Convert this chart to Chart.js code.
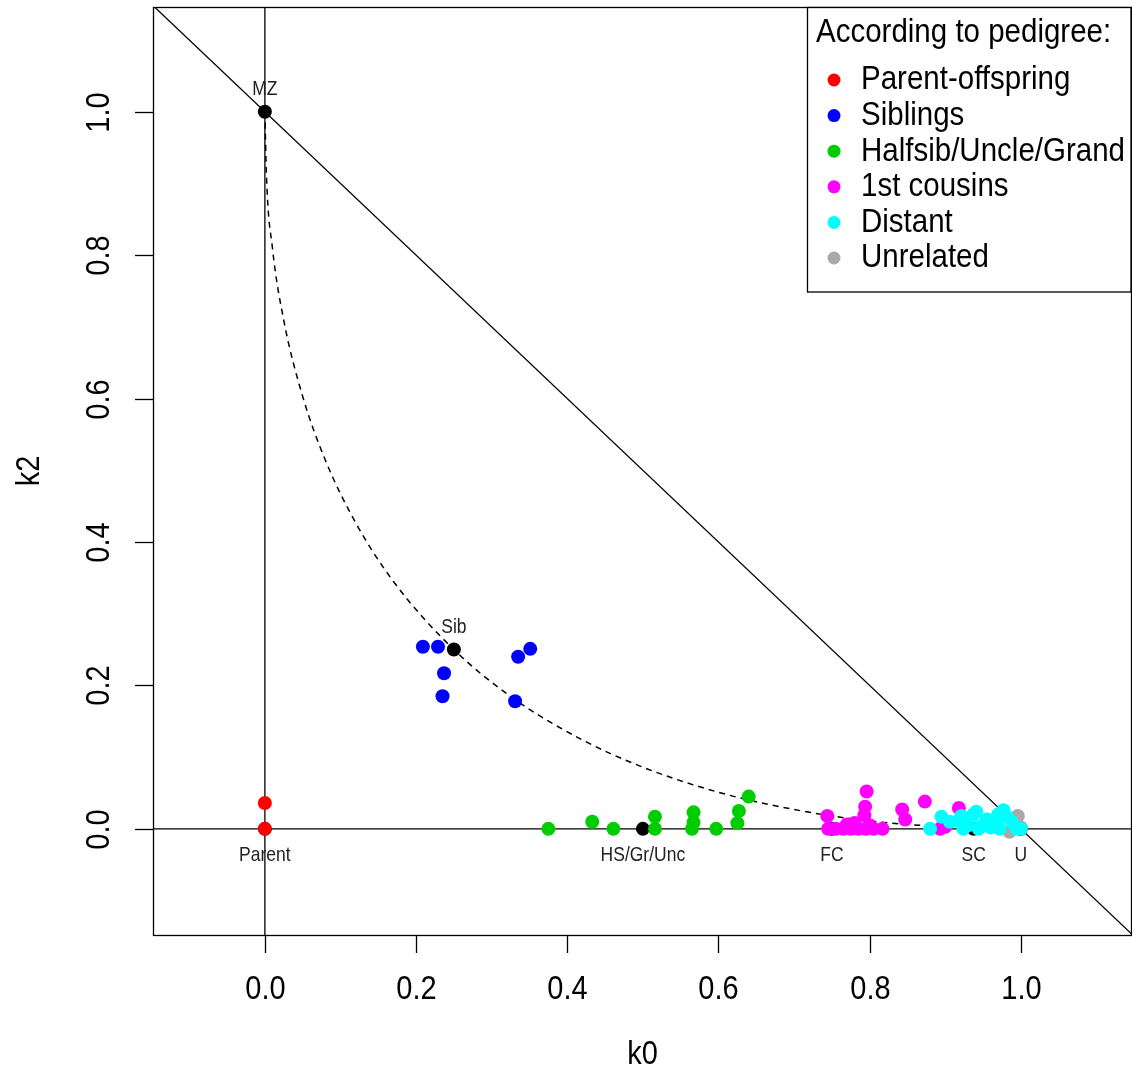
<!DOCTYPE html>
<html>
<head>
<meta charset="utf-8">
<script src="https://cdn.jsdelivr.net/npm/chart.js@4.4.1/dist/chart.umd.min.js"></script>
<style>
  html, body { margin: 0; padding: 0; background: #fff; }
  canvas { display: block; }
</style>
</head>
<body>
<canvas id="plot" width="1132" height="1074"></canvas>
<script>
// --- observed pairs (k0, k2) per pedigree class ---
const parentK0 = [0, 0];
const parentK2 = [0, 0.036];

const siblingsK0 = [0.209, 0.229, 0.237, 0.235, 0.335, 0.351, 0.331];
const siblingsK2 = [0.254, 0.254, 0.217, 0.185, 0.240, 0.251, 0.178];

const halfsibK0 = [0.375, 0.433, 0.461, 0.516, 0.516, 0.565, 0.567, 0.567, 0.597, 0.625, 0.627, 0.640];
const halfsibK2 = [0, 0.010, 0, 0, 0.017, 0, 0.009, 0.023, 0, 0.008, 0.025, 0.045];

const cousinsK0 = [0.744, 0.796, 0.794, 0.793, 0.745, 0.755, 0.765, 0.775, 0.785, 0.795, 0.805, 0.817,
                   0.770, 0.780, 0.800, 0.843, 0.847, 0.873, 0.918, 0.893, 0.900];
const cousinsK2 = [0.018, 0.052, 0.031, 0.019, 0, 0, 0, 0, 0, 0, 0, 0,
                   0.006, 0.008, 0.005, 0.027, 0.013, 0.038, 0.029, 0, 0.003];

const distantK0 = [0.880, 0.895, 0.906, 0.919, 0.924, 0.921, 0.937, 0.941, 0.944, 0.946, 0.955,
                   0.966, 0.970, 0.972, 0.977, 0.981, 0.988, 0.994, 1.000, 0.930, 0.960];
const distantK2 = [0, 0.017, 0.010, 0.010, 0, 0.018, 0.020, 0.024, 0, 0.003, 0.013,
                   0.008, 0.020, 0, 0.026, 0.017, 0.010, 0, 0, 0.005, 0.002];

const unrelatedK0 = [0.985, 0.990, 0.996, 1.000];
const unrelatedK2 = [-0.004, 0.008, 0.018, 0.002];

const groupLabels = ['Parent-offspring', 'Siblings', 'Halfsib/Uncle/Grand', '1st cousins', 'Distant', 'Unrelated'];
const groupColors = ['#FF0000', '#0000FF', '#00CD00', '#FF00FF', '#00FFFF', '#A9A9A9'];
const legendTitle = 'According to pedigree:';

// --- theoretical reference relationships ---
const refLabels = ['Parent', 'MZ', 'Sib', 'HS/Gr/Unc', 'FC', 'SC', 'U'];
const refK0 = [0, 0, 0.25, 0.5, 0.75, 0.9375, 1];
const refK2 = [0, 1, 0.25, 0, 0, 0, 0];
const refAbove = [false, true, true, false, false, false, false];

// dashed boundary curve
const curveK0 = [0, 0.002, 0.01, 0.025, 0.05, 0.08, 0.12, 0.17, 0.25, 0.33, 0.42, 0.5, 0.6, 0.7, 0.8, 0.9, 1.0];
const curveK2 = [1, 0.913, 0.81, 0.709, 0.603, 0.514, 0.427, 0.345, 0.25, 0.181, 0.124, 0.086, 0.051, 0.027, 0.011, 0.003, 0];

// straight guide lines
const diagK0 = [-0.2, 1.2];
const diagK2 = [1.2, -0.2];
const vertK0 = [0, 0];
const vertK2 = [-0.2, 1.2];
const horizK0 = [-0.2, 1.2];
const horizK2 = [0, 0];

// axes
const xTicks = [0, 0.2, 0.4, 0.6, 0.8, 1.0];
const xTickLabels = ['0.0', '0.2', '0.4', '0.6', '0.8', '1.0'];
const yTicks = [0, 0.2, 0.4, 0.6, 0.8, 1.0];
const yTickLabels = ['0.0', '0.2', '0.4', '0.6', '0.8', '1.0'];
const xTitle = 'k0';
const yTitle = 'k2';

const FONT = '"Liberation Sans", Arial, sans-serif';

function pts(xs, ys) {
    return xs.map((x, i) => ({ x: x, y: ys[i] }));
}

function guide(xs, ys, dash, order) {
    return {
        type: 'line', data: pts(xs, ys), borderColor: '#000', borderWidth: 1.3,
        borderDash: dash, pointRadius: 0, pointHoverRadius: 0, fill: false, tension: 0,
        showLine: true, order: order
    };
}

function dots(xs, ys, color, label, order) {
    return {
        label: label, data: pts(xs, ys), backgroundColor: color, borderWidth: 0,
        pointRadius: 7, pointHoverRadius: 7, showLine: false, order: order
    };
}

// text is a bit taller than wide in the original
function tallText(ctx, text, x, y, rot) {
    ctx.save();
    ctx.translate(x, y);
    if (rot) ctx.rotate(rot);
    ctx.scale(1, 1.15);
    ctx.fillText(text, 0, 0);
    ctx.restore();
}

const whiteBg = {
    id: 'whiteBg',
    beforeDraw(chart) {
        const ctx = chart.ctx;
        ctx.save();
        ctx.fillStyle = '#fff';
        ctx.fillRect(0, 0, chart.width, chart.height);
        ctx.restore();
    }
};

const rStyleAxes = {
    id: 'rStyleAxes',
    afterDraw(chart) {
        const ctx = chart.ctx;
        const a = chart.chartArea;
        const xs = chart.scales.x, ys = chart.scales.y;
        ctx.save();
        ctx.strokeStyle = '#000';
        ctx.fillStyle = '#000';
        ctx.lineWidth = 1.3;

        // box
        ctx.strokeRect(a.left + 0.5, a.top + 0.5, a.right - a.left - 1, a.bottom - a.top);

        // ticks
        ctx.font = '29px ' + FONT;
        ctx.textAlign = 'center';
        ctx.textBaseline = 'middle';
        xTicks.forEach((v, i) => {
            const px = Math.round(xs.getPixelForValue(v)) + 0.5;
            ctx.beginPath();
            ctx.moveTo(px, a.bottom);
            ctx.lineTo(px, a.bottom + 18);
            ctx.stroke();
            tallText(ctx, xTickLabels[i], px, 990);
        });
        yTicks.forEach((v, i) => {
            const py = Math.round(ys.getPixelForValue(v)) + 0.5;
            ctx.beginPath();
            ctx.moveTo(a.left, py);
            ctx.lineTo(a.left - 18, py);
            ctx.stroke();
            tallText(ctx, yTickLabels[i], 100, py, -Math.PI / 2);
        });

        // axis titles
        tallText(ctx, xTitle, (a.left + a.right) / 2, 1055);
        tallText(ctx, yTitle, 30, (a.top + a.bottom) / 2, -Math.PI / 2);

        // reference labels
        ctx.font = '17.5px ' + FONT;
        ctx.fillStyle = '#222';
        refLabels.forEach((t, i) => {
            const px = xs.getPixelForValue(refK0[i]);
            const py = ys.getPixelForValue(refK2[i]);
            tallText(ctx, t, px, refAbove[i] ? py - 22 : py + 27);
        });

        // legend
        const lx = 807.5, ly = 7.5, lw = 1131 - 807.5, lh = 292 - 7.5;
        ctx.fillStyle = '#fff';
        ctx.fillRect(lx, ly, lw, lh);
        ctx.strokeStyle = '#000';
        ctx.strokeRect(lx, ly, lw, lh);
        ctx.fillStyle = '#000';
        ctx.font = '29.5px ' + FONT;
        ctx.textAlign = 'left';
        tallText(ctx, legendTitle, 816, 33);
        groupLabels.forEach((t, i) => {
            const cy = 80 + i * 35.6;
            ctx.fillStyle = groupColors[i];
            ctx.beginPath();
            ctx.arc(834, cy, 6.5, 0, Math.PI * 2);
            ctx.fill();
            ctx.fillStyle = '#000';
            tallText(ctx, t, 861, cy);
        });
        ctx.restore();
    }
};

const datasets = [
    dots(distantK0, distantK2, groupColors[4], groupLabels[4], 1),
    dots(cousinsK0, cousinsK2, groupColors[3], groupLabels[3], 2),
    dots(halfsibK0, halfsibK2, groupColors[2], groupLabels[2], 3),
    dots(siblingsK0, siblingsK2, groupColors[1], groupLabels[1], 4),
    dots(parentK0, parentK2, groupColors[0], groupLabels[0], 5),
    dots(unrelatedK0, unrelatedK2, groupColors[5], groupLabels[5], 6),
    dots(refK0, refK2, '#000', 'Reference', 7),
    guide(curveK0, curveK2, [6, 5], 8),
    guide(diagK0, diagK2, [], 9),
    guide(vertK0, vertK2, [], 10),
    guide(horizK0, horizK2, [], 11)
];
datasets[7].tension = 0.4;
datasets[7].cubicInterpolationMode = 'monotone';
datasets[7].borderWidth = 1.5;

new Chart(document.getElementById('plot').getContext('2d'), {
    type: 'scatter',
    data: { datasets: datasets },
    options: {
        responsive: false,
        devicePixelRatio: 1,
        animation: false,
        layout: { autoPadding: false, padding: { top: 7, right: 0, bottom: 0, left: 0 } },
        plugins: {
            legend: { display: false },
            tooltip: { enabled: false }
        },
        scales: {
            x: {
                type: 'linear', min: -0.148, max: 1.147,
                grid: { display: false }, border: { display: false },
                ticks: { display: false },
                afterBuildTicks: s => { s.ticks = xTicks.map(v => ({ value: v })); },
                afterFit: s => { s.height = 139; }
            },
            y: {
                type: 'linear', min: -0.148, max: 1.146,
                grid: { display: false }, border: { display: false },
                ticks: { display: false },
                afterBuildTicks: s => { s.ticks = yTicks.map(v => ({ value: v })); },
                afterFit: s => { s.width = 153; }
            }
        }
    },
    plugins: [whiteBg, rStyleAxes]
});
</script>
</body>
</html>
